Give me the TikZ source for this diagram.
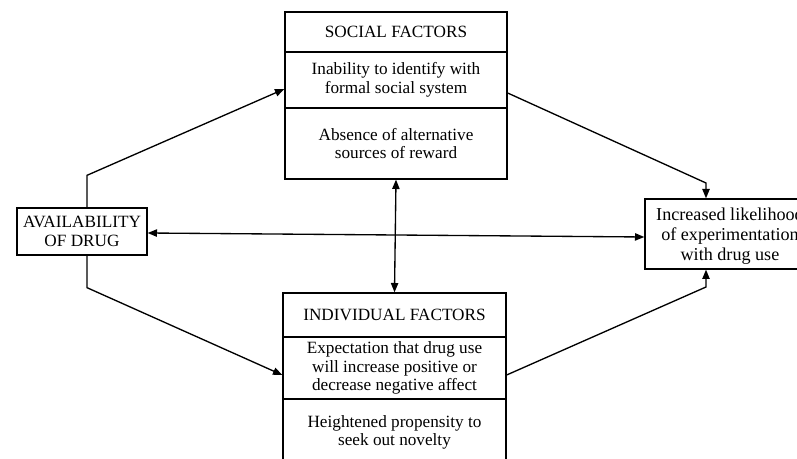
\documentclass[tikz,border=0pt]{standalone}
\usepackage{fontspec}
\setmainfont{Liberation Serif}
\usetikzlibrary{arrows.meta,calc}
\begin{document}
\begin{tikzpicture}[x=0.75pt,y=-0.75pt,
  box/.style={draw,line width=1pt,inner sep=0pt,align=center,
    font=\fontsize{12.9}{14}\selectfont},
  arr/.style={line width=1pt,-{Triangle[length=7pt,width=5.5pt]}},
  darr/.style={line width=1pt,{Triangle[length=7pt,width=5.5pt]}-{Triangle[length=7pt,width=5.5pt]}}]
\useasboundingbox (0,0) rectangle (797,459);
\clip (0,0) rectangle (797,459);
% social factors
\node[box,minimum width=166.5pt,minimum height=30pt] (s1) at (396,32) {SOCIAL FACTORS};
\node[box,minimum width=166.5pt,minimum height=42pt] (s2) at (396,80) {Inability to identify with\\formal social system};
\node[box,minimum width=166.5pt,minimum height=53.25pt] (s3) at (396,143.5) {Absence of alternative\\sources of reward};
% individual factors
\node[box,minimum width=167.25pt,minimum height=33pt] (i1) at (394.5,315) {INDIVIDUAL FACTORS};
\node[box,minimum width=167.25pt,minimum height=46.5pt] (i2) at (394.5,368) {Expectation that drug use\\will increase positive or\\decrease negative affect};
\node[box,minimum width=167.25pt,minimum height=50.25pt] (i3) at (394.5,432.5) {Heightened propensity to\\seek out novelty};
% availability
\node[box,minimum width=97.5pt,minimum height=35.25pt] (av) at (82,231.5) {AVAILABILITY\\OF DRUG};
% outcome
\node[box,minimum width=127.5pt,minimum height=52.5pt,
  font=\fontsize{13.6}{15}\selectfont] (rb) at (730,234) {\rule{0pt}{13pt}Increased likelihood\\of experimentation\\with drug use};
% connectors
\coordinate (a1) at ($(av.north)+(5,-32)$);
\coordinate (a2) at ($(av.south)+(5,32)$);
\coordinate (k1) at (706,183);
\coordinate (k2) at (706,287);
\draw[arr] ($(av.north)+(5,0)$) -- (a1) -- ($(s2.west)+(0,9)$);
\draw[arr] ($(av.south)+(5,0)$) -- (a2) -- ($(i2.west)+(0,7)$);
\draw[darr] ($(av.east)+(0,1.5)$) -- ($(rb.west)+(0,3)$);
\draw[darr] (s3.south) -- (i1.north);
\draw[arr] ($(s2.east)+(0,13)$) -- (k1) -- (k1 |- rb.north);
\draw[arr] ($(i2.east)+(0,7)$) -- (k2) -- (k2 |- rb.south);
\end{tikzpicture}
\end{document}
